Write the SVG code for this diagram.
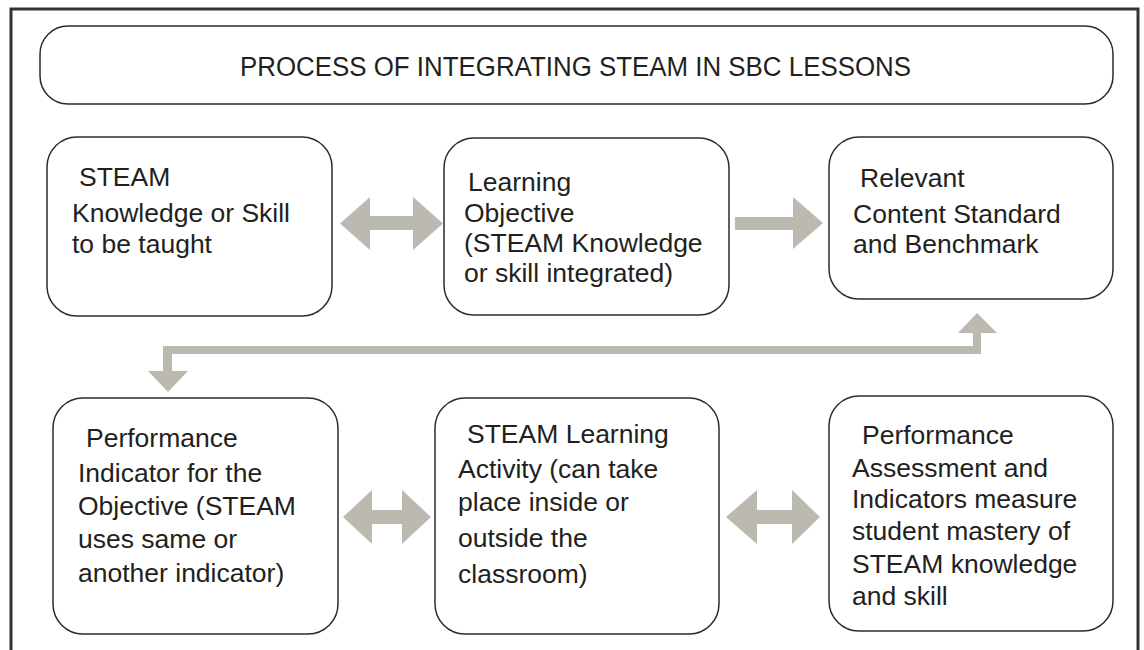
<svg xmlns="http://www.w3.org/2000/svg" width="1144" height="650" viewBox="0 0 1144 650">
<style>
.frame{fill:none;stroke:#333;stroke-width:3}
.box{fill:#fff;stroke:#2b2b2b;stroke-width:1.5}
.t{font-family:"Liberation Sans",Arial,Helvetica,sans-serif;font-size:26.5px;fill:#231f20}
.title{font-family:"Liberation Sans",Arial,Helvetica,sans-serif;font-size:27px;fill:#231f20}
.arrow{fill:#bcb9b0;stroke:none}
</style>
<rect width="1144" height="650" fill="#fff"/>
<rect class="frame" x="11" y="9" width="1127" height="700"/>
<g id="title">
<rect class="box" x="40" y="26" width="1073" height="78" rx="28" ry="28"/>
<text class="title" x="240" y="76" textLength="671" lengthAdjust="spacingAndGlyphs">PROCESS OF INTEGRATING STEAM IN SBC LESSONS</text>
</g>
<g id="connectors">
<polygon class="arrow" points="340,223.5 370,197 370,216 413,216 413,197 443,223.5 413,250 413,230 370,230 370,250"/>
<polygon class="arrow" points="735,217 793,217 793,197 823,223 793,249 793,230 735,230"/>
<path class="arrow" d="M163,346 L973,346 L973,333 L958,333 L977,313 L997,333 L981,333 L981,354 L172,354 L172,371 L188,371 L168,392 L148,371 L163,371 Z"/>
<polygon class="arrow" points="343,517 372,490 372,510 402,510 402,490 431,517 402,544 402,524 372,524 372,544"/>
<polygon class="arrow" points="726,517 757,490 757,510 792,510 792,490 820,517 792,544 792,524 757,524 757,544"/>
</g>
<g id="node1">
<rect class="box" x="47" y="137" width="285" height="179" rx="30" ry="30"/>
<text class="t" x="79" y="186">STEAM</text>
<text class="t" x="72" y="222">Knowledge or Skill</text>
<text class="t" x="72" y="253">to be taught</text>
</g>
<g id="node2">
<rect class="box" x="444" y="138" width="285" height="177" rx="30" ry="30"/>
<text class="t" x="468" y="191">Learning</text>
<text class="t" x="464" y="222">Objective</text>
<text class="t" x="464" y="252">(STEAM Knowledge</text>
<text class="t" x="464" y="282">or skill integrated)</text>
</g>
<g id="node3">
<rect class="box" x="829" y="137" width="284" height="162" rx="30" ry="30"/>
<text class="t" x="860" y="187">Relevant</text>
<text class="t" x="853" y="223">Content Standard</text>
<text class="t" x="853" y="253">and Benchmark</text>
</g>
<g id="node4">
<rect class="box" x="53" y="398" width="285" height="236" rx="30" ry="30"/>
<text class="t" x="86" y="447">Performance</text>
<text class="t" x="78" y="482">Indicator for the</text>
<text class="t" x="78" y="515">Objective (STEAM</text>
<text class="t" x="78" y="548">uses same or</text>
<text class="t" x="78" y="582">another indicator)</text>
</g>
<g id="node5">
<rect class="box" x="435" y="398" width="284" height="236" rx="30" ry="30"/>
<text class="t" x="467" y="443">STEAM Learning</text>
<text class="t" x="458" y="478">Activity (can take</text>
<text class="t" x="458" y="511">place inside or</text>
<text class="t" x="458" y="547">outside the</text>
<text class="t" x="458" y="583">classroom)</text>
</g>
<g id="node6">
<rect class="box" x="829" y="396" width="284" height="235" rx="30" ry="30"/>
<text class="t" x="862" y="444">Performance</text>
<text class="t" x="852" y="477">Assessment and</text>
<text class="t" x="852" y="508">Indicators measure</text>
<text class="t" x="852" y="540">student mastery of</text>
<text class="t" x="852" y="573">STEAM knowledge</text>
<text class="t" x="852" y="605">and skill</text>
</g>
</svg>
